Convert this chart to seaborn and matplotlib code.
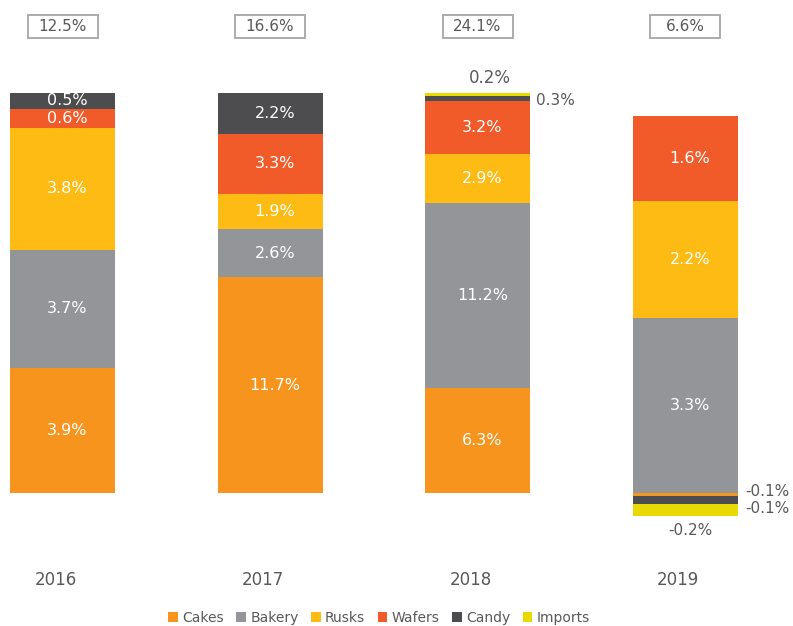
import matplotlib
matplotlib.use("Agg")
import matplotlib.pyplot as plt
import matplotlib.patches as mpatches
import matplotlib.transforms as mtransforms
import numpy as np
import pandas as pd
import seaborn as sns

years = ["2016", "2017", "2018", "2019"]
totals = [12.5, 16.6, 24.1, 6.6]
categories = ["Cakes", "Bakery", "Rusks", "Wafers", "Candy", "Imports"]
cakes = [3.9, 11.7, 6.3, -0.06]
bakery = [3.7, 2.6, 11.2, 3.3]
rusks = [3.8, 1.9, 2.9, 2.2]
wafers = [0.6, 3.3, 3.2, 1.6]
candy = [0.5, 2.2, 0.3, -0.14]
imports = [0.0, 0.0, 0.2, -0.24]
colors = ["#F7941D", "#939598", "#FDBB13", "#F15A29", "#4D4D4F", "#E8DA00"]

series = [cakes, bakery, rusks, wafers, candy, imports]

sns.set_theme(style="white")
plt.rcParams["font.family"] = ["DejaVu Sans"]

W, H = 793, 626
fig = plt.figure(figsize=(W / 100, H / 100), dpi=100)
ax = fig.add_axes([0, 1 - 540 / H, 1, 540 / H])

vals = np.array(series, dtype=float)  # cat x year
norm = np.abs(vals).sum(axis=0)
shares = vals / norm

bar_w = 105 / 207.5
pos_base = np.zeros(len(years))
neg_base = np.zeros(len(years))
bottoms = []
for ci, cat in enumerate(categories):
    h = shares[ci]
    b = np.where(h >= 0, pos_base, neg_base)
    bottoms.append(b.copy())
    df = pd.DataFrame({"year": years, "h": h})
    sns.barplot(data=df, x="year", y="h", order=years, bottom=b, color=colors[ci],
                saturation=1, width=bar_w, errorbar=None, ax=ax, linewidth=0,
                label=cat)
    pos_base = np.where(h >= 0, pos_base + h, pos_base)
    neg_base = np.where(h < 0, neg_base + h, neg_base)

gray = "#595959"
special = {
    (2, "Imports"): ("above", (9, 11), 12),
    (2, "Candy"): ("right", (4.5, -1.5), 11),
    (3, "Cakes"): ("right", (5.5, 2.2), 11),
    (3, "Candy"): ("right", (5.5, -6.5), 11),
    (3, "Imports"): ("below", (3.6, -10), 11),
}
for ci, cat in enumerate(categories):
    for yi in range(len(years)):
        v = vals[ci, yi]
        if v == 0:
            continue
        h = shares[ci, yi]
        b = bottoms[ci][yi]
        txt = f"{v:.1f}%"
        key = (yi, cat)
        if key in special:
            kind, off, fs = special[key]
            if kind in ("above", "below"):
                xy = (yi, b + h)
                ha = "center"
            else:
                xy = (yi + bar_w / 2, b + h / 2)
                ha = "left"
            ax.annotate(txt, xy=xy, xytext=off, textcoords="offset points",
                        ha=ha, va="center", fontsize=fs, color=gray)
        else:
            ax.annotate(txt, xy=(yi, b + h / 2), xytext=(3.6, 0),
                        textcoords="offset points", ha="center", va="center",
                        fontsize=11.5, color="white")

box_w = 70 / 207.5
box_lo = (493 - 38) / 400
box_hi = (493 - 15) / 400
for yi, t in enumerate(totals):
    rect = mpatches.Rectangle((yi - box_w / 2, box_lo), box_w, box_hi - box_lo,
                              facecolor="white", edgecolor="#A6A6A6", lw=1.3,
                              clip_on=False, zorder=5)
    ax.add_patch(rect)
    ax.text(yi, (box_lo + box_hi) / 2, f"{t:.1f}%", ha="center", va="center",
            fontsize=11, color=gray, zorder=6)

ax.set_xlim(-62.5 / 207.5, (793 - 62.5) / 207.5)
ax.set_ylim(-(540 - 493) / 400, 493 / 400)
ax.set_xlabel("")
ax.set_ylabel("")
ax.set_yticks([])
ax.tick_params(axis="x", length=0, pad=22, labelsize=12, labelcolor=gray)
ax.set_xticks(range(len(years)))
ax.set_xticklabels(years)
off = mtransforms.ScaledTranslation(-7 / 100, 0, fig.dpi_scale_trans)
for lab in ax.get_xticklabels():
    lab.set_transform(lab.get_transform() + off)
for s in ax.spines.values():
    s.set_visible(False)

leg = ax.get_legend()
if leg is not None:
    leg.remove()
handles = [mpatches.Patch(facecolor=c, edgecolor="none") for c in colors]
fig.legend(handles, categories, loc="center", bbox_to_anchor=(379 / W, 1 - 618 / H),
           ncol=6, frameon=False, fontsize=10, labelcolor=gray,
           handlelength=0.7, handleheight=0.7, handletextpad=0.3,
           columnspacing=0.9)

fig.savefig("out.png", dpi=100)
